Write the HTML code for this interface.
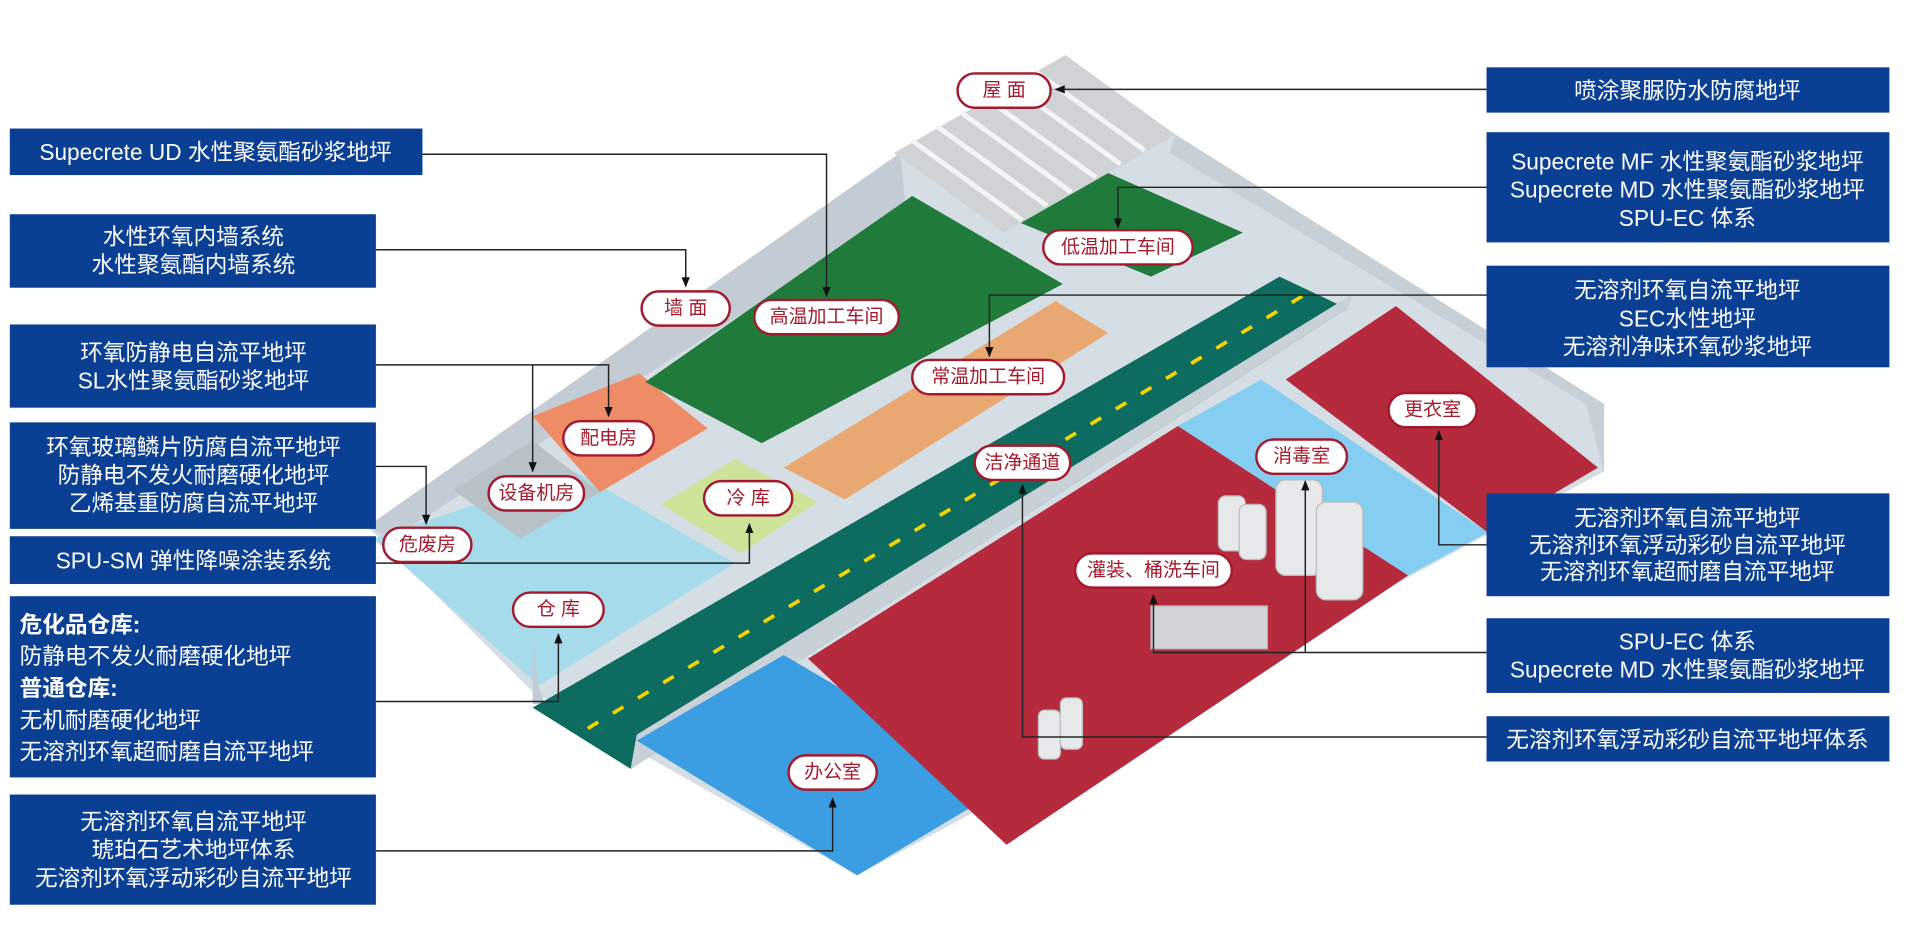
<!DOCTYPE html>
<html><head><meta charset="utf-8"><style>
html,body{margin:0;padding:0;background:#fff;width:1920px;height:928px;overflow:hidden}
svg{display:block}
.bt{font-family:"Liberation Sans","Noto Sans CJK SC",sans-serif;font-size:18.5px;fill:#fff}
.lb{font-family:"Liberation Sans","Noto Sans CJK SC",sans-serif;font-size:15.5px;fill:#a3192d;text-anchor:middle;dominant-baseline:central}
.pill{fill:#fff;stroke:#a3192d;stroke-width:2}
.ln{fill:none;stroke:#222;stroke-width:1.2}
</style></head><body>
<svg width="1920" height="928" viewBox="0 0 1568 758" preserveAspectRatio="none" xmlns="http://www.w3.org/2000/svg">
<defs><marker id="a" viewBox="0 0 10 10" refX="9" refY="5" markerWidth="7" markerHeight="7" orient="auto-start-reverse"><path d="M0,1 L10,5 L0,9 z" fill="#111"/></marker></defs>
<!-- building base -->
<polygon points="300,430 735,125 960,110 1310,330 1310,385 700,715 435,565" fill="#d6dee5"/>
<polygon points="300,430 735,125 740,170 320,440" fill="#c3ccd4"/>
<polygon points="960,110 1310,330 1310,385 1295,330 955,125" fill="#c8d0d7"/>
<!-- left warehouse -->
<polygon points="305,440 440,560 600,460 470,385" fill="#a5dbea"/>
<polygon points="435,520 440,560 445,575 435,575" fill="#c3ccd4"/>
<!-- 配电房 -->
<polygon points="435,340 490,402 578,350 522,305" fill="#ef8c68"/>
<!-- 设备机房 gray -->
<polygon points="370,400 425,440 490,402 435,360" fill="#b9c1c8"/>
<!-- 冷库 -->
<polygon points="540,412 605,452 668,410 600,375" fill="#cde39a"/>
<!-- green high temp -->
<polygon points="527,312 622,362 868,232 745,160" fill="#1f7a3c"/>
<!-- green low temp -->
<polygon points="780,160 940,226 1015,190 875,128" fill="#1f7a3c"/>
<!-- orange 常温 -->
<polygon points="640,382 690,408 905,272 862,246" fill="#e9a872"/>
<!-- road -->
<polygon points="435,578 515,628 1100,252 1045,226" fill="#0e6b5f"/>
<line x1="480" y1="595" x2="1070" y2="238" stroke="#f3d400" stroke-width="3" stroke-dasharray="10,14"/>
<!-- wall along road -->
<polygon points="515,628 520,600 1105,240 1100,252" fill="#c9d1d8"/>
<!-- office -->
<polygon points="520,605 700,715 822,642 640,535" fill="#3b9ee2"/>
<!-- red lower -->
<polygon points="660,538 822,690 1150,470 962,348" fill="#b52a3c"/>
<!-- blue 消毒室 -->
<polygon points="962,348 1150,470 1215,435 1030,310" fill="#86cdf2"/>
<!-- red upper -->
<polygon points="1050,310 1215,435 1305,382 1140,250" fill="#b52a3c"/>
<!-- roof -->
<polygon points="730,125 870,45 960,110 820,190" fill="#d0d3d6"/>
<g stroke="#f4f4f4" stroke-width="4"><line x1="745" y1="115" x2="835" y2="180"/><line x1="765" y1="103" x2="855" y2="168"/><line x1="785" y1="92" x2="875" y2="157"/><line x1="805" y1="80" x2="895" y2="145"/><line x1="825" y1="69" x2="915" y2="134"/><line x1="845" y1="58" x2="935" y2="123"/></g>
<!-- tanks -->
<g fill="#e6e8ea" stroke="#bbb"><rect x="1042" y="392" width="38" height="78" rx="8"/><rect x="1075" y="410" width="38" height="80" rx="8"/><rect x="995" y="405" width="22" height="45" rx="6"/><rect x="1012" y="412" width="22" height="45" rx="6"/><rect x="848" y="580" width="18" height="40" rx="5"/><rect x="866" y="570" width="18" height="42" rx="5"/><rect x="940" y="495" width="95" height="35" fill="#cfd3d7"/></g>
<!-- connectors -->
<g class="ln">
<path d="M1214,73 H862" marker-end="url(#a)"/>
<path d="M345,126 H675 V242" marker-end="url(#a)"/>
<path d="M307,204 H560 V234" marker-end="url(#a)"/>
<path d="M307,298 H497 V340" marker-end="url(#a)"/>
<path d="M435,298 V385" marker-end="url(#a)"/>
<path d="M307,381 H348 V428" marker-end="url(#a)"/>
<path d="M307,460 H612 V428" marker-end="url(#a)"/>
<path d="M307,573 H456 V518" marker-end="url(#a)"/>
<path d="M307,695 H680 V652" marker-end="url(#a)"/>
<path d="M1214,153 H913 V186" marker-end="url(#a)"/>
<path d="M1214,241 H808 V291" marker-end="url(#a)"/>
<path d="M1214,445 H1175 V352" marker-end="url(#a)"/>
<path d="M1214,533 H942 V486" marker-end="url(#a)"/>
<path d="M1066,533 V393" marker-end="url(#a)"/>
<path d="M1214,602 H835 V396" marker-end="url(#a)"/>
</g>
<!-- labels -->
<g>
<rect class="pill" x="782" y="60" width="76" height="28" rx="14"/><text class="lb" x="820" y="74">屋 面</text>
<rect class="pill" x="524" y="238" width="72" height="28" rx="14"/><text class="lb" x="560" y="252">墙 面</text>
<rect class="pill" x="616" y="245" width="118" height="28" rx="14"/><text class="lb" x="675" y="259">高温加工车间</text>
<rect class="pill" x="852" y="188" width="122" height="28" rx="14"/><text class="lb" x="913" y="202">低温加工车间</text>
<rect class="pill" x="745" y="294" width="124" height="28" rx="14"/><text class="lb" x="807" y="308">常温加工车间</text>
<rect class="pill" x="460" y="344" width="74" height="28" rx="14"/><text class="lb" x="497" y="358">配电房</text>
<rect class="pill" x="399" y="389" width="78" height="28" rx="14"/><text class="lb" x="438" y="403">设备机房</text>
<rect class="pill" x="575" y="393" width="72" height="28" rx="14"/><text class="lb" x="611" y="407">冷 库</text>
<rect class="pill" x="313" y="431" width="72" height="28" rx="14"/><text class="lb" x="349" y="445">危废房</text>
<rect class="pill" x="419" y="484" width="74" height="28" rx="14"/><text class="lb" x="456" y="498">仓 库</text>
<rect class="pill" x="796" y="364" width="78" height="28" rx="14"/><text class="lb" x="835" y="378">洁净通道</text>
<rect class="pill" x="1026" y="359" width="74" height="28" rx="14"/><text class="lb" x="1063" y="373">消毒室</text>
<rect class="pill" x="1134" y="321" width="72" height="28" rx="14"/><text class="lb" x="1170" y="335">更衣室</text>
<rect class="pill" x="878" y="452" width="128" height="28" rx="14"/><text class="lb" x="942" y="466">灌装、桶洗车间</text>
<rect class="pill" x="644" y="617" width="72" height="28" rx="14"/><text class="lb" x="680" y="631">办公室</text>
</g>
<!-- boxes -->
<g fill="#0a3f94">
<rect x="8" y="105" width="337" height="38"/>
<rect x="8" y="175" width="299" height="60"/>
<rect x="8" y="265" width="299" height="68"/>
<rect x="8" y="345" width="299" height="87"/>
<rect x="8" y="438" width="299" height="39"/>
<rect x="8" y="487" width="299" height="148"/>
<rect x="8" y="649" width="299" height="90"/>
<rect x="1214" y="55" width="329" height="37"/>
<rect x="1214" y="108" width="329" height="90"/>
<rect x="1214" y="217" width="329" height="83"/>
<rect x="1214" y="403" width="329" height="84"/>
<rect x="1214" y="505" width="329" height="61"/>
<rect x="1214" y="585" width="329" height="37"/>
</g>
<g class="bt" text-anchor="middle" dominant-baseline="central">
<text x="176" y="124">Supecrete UD 水性聚氨酯砂浆地坪</text>
<text x="158" y="193">水性环氧内墙系统</text><text x="158" y="216">水性聚氨酯内墙系统</text>
<text x="158" y="288">环氧防静电自流平地坪</text><text x="158" y="311">SL水性聚氨酯砂浆地坪</text>
<text x="158" y="365">环氧玻璃鳞片防腐自流平地坪</text><text x="158" y="388">防静电不发火耐磨硬化地坪</text><text x="158" y="411">乙烯基重防腐自流平地坪</text>
<text x="158" y="458">SPU-SM 弹性降噪涂装系统</text>
<text x="158" y="671">无溶剂环氧自流平地坪</text><text x="158" y="694">琥珀石艺术地坪体系</text><text x="158" y="717">无溶剂环氧浮动彩砂自流平地坪</text>
<text x="1378" y="74">喷涂聚脲防水防腐地坪</text>
<text x="1378" y="132">Supecrete MF 水性聚氨酯砂浆地坪</text><text x="1378" y="155">Supecrete MD 水性聚氨酯砂浆地坪</text><text x="1378" y="178">SPU-EC 体系</text>
<text x="1378" y="237">无溶剂环氧自流平地坪</text><text x="1378" y="260">SEC水性地坪</text><text x="1378" y="283">无溶剂净味环氧砂浆地坪</text>
<text x="1378" y="423">无溶剂环氧自流平地坪</text><text x="1378" y="445">无溶剂环氧浮动彩砂自流平地坪</text><text x="1378" y="467">无溶剂环氧超耐磨自流平地坪</text>
<text x="1378" y="524">SPU-EC 体系</text><text x="1378" y="547">Supecrete MD 水性聚氨酯砂浆地坪</text>
<text x="1378" y="604">无溶剂环氧浮动彩砂自流平地坪体系</text>
</g>
<g class="bt" dominant-baseline="central">
<text x="16" y="510" font-weight="bold">危化品仓库:</text>
<text x="16" y="536">防静电不发火耐磨硬化地坪</text>
<text x="16" y="562" font-weight="bold">普通仓库:</text>
<text x="16" y="588">无机耐磨硬化地坪</text>
<text x="16" y="614">无溶剂环氧超耐磨自流平地坪</text>
</g>
</svg>
</body></html>
